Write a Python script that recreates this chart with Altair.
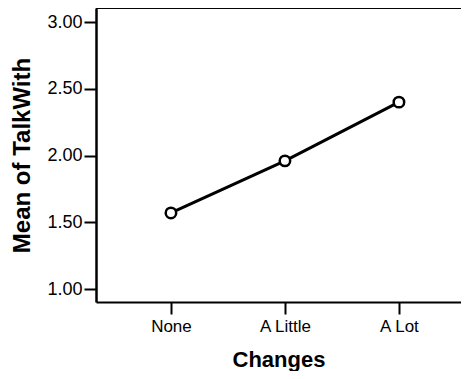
import altair as alt
import pandas as pd

categories = ["None", "A Little", "A Lot"]
means = [1.57, 1.96, 2.40]
y_ticks = [1.0, 1.5, 2.0, 2.5, 3.0]

df = pd.DataFrame({"Changes": categories, "Mean": means})

FONT = "Liberation Sans"
W, H = 365, 294

x = alt.X(
    "Changes:N",
    sort=categories,
    scale=alt.Scale(type="point", padding=0.601, align=0.547),
    axis=alt.Axis(
        title="Changes",
        labelAngle=0,
        labelFont=FONT,
        labelFontSize=17,
        labelColor="black",
        labelPadding=4,
        tickColor="black",
        tickSize=12,
        tickWidth=2,
        domainColor="black",
        domainWidth=2,
        titleFont=FONT,
        titleFontSize=22,
        titleFontWeight="bold",
        titleColor="black",
        titlePadding=15,
    ),
)
y = alt.Y(
    "Mean:Q",
    scale=alt.Scale(domain=[0.903, 3.105], nice=False, zero=False),
    axis=alt.Axis(
        title="Mean of TalkWith",
        values=y_ticks,
        format=".2f",
        grid=False,
        labelFont=FONT,
        labelFontSize=18,
        labelColor="black",
        labelPadding=2,
        tickColor="black",
        tickSize=12,
        tickWidth=2,
        domainColor="black",
        domainWidth=2.5,
        titleFont=FONT,
        titleFontSize=24,
        titleFontWeight="bold",
        titleColor="black",
        titlePadding=12,
    ),
)

top = alt.Chart(df).mark_rule(color="black", strokeWidth=1.5).encode(
    x=alt.value(0), x2=alt.value(W + 20), y=alt.value(0)
)
line = alt.Chart(df).mark_line(color="black", strokeWidth=3).encode(x=x, y=y)
pts = alt.Chart(df).mark_point(
    shape="circle", size=110, filled=True, fill="white", stroke="black", strokeWidth=2.5, opacity=1
).encode(x=x, y=y)

chart = (
    alt.layer(top, line, pts)
    .properties(
        width=W,
        height=H,
        autosize=alt.AutoSizeParams(type="none"),
        padding={"left": 88, "top": 0, "right": 0, "bottom": 69},
        background="white",
    )
    .configure_view(stroke=None)
)

chart.save("out.html", embed_options={"renderer": "svg", "actions": False})
